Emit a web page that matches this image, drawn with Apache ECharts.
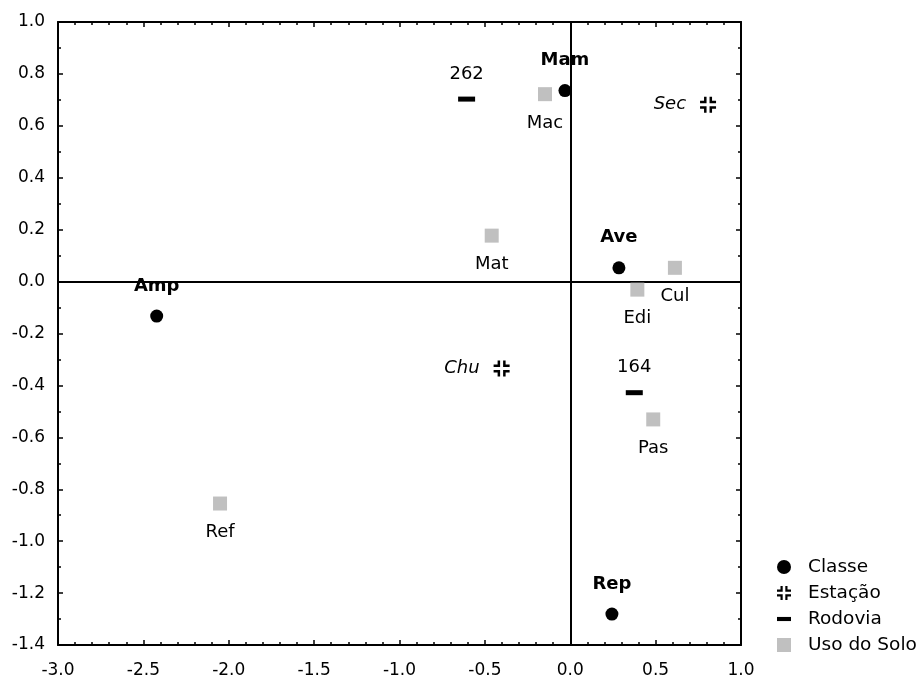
<!DOCTYPE html>
<html>
<head>
<meta charset="utf-8">
<script src="https://cdn.jsdelivr.net/npm/echarts@6/dist/echarts.min.js"></script>
<style>
  html, body { margin: 0; padding: 0; background: #fff; }
  #main { width: 924px; height: 679px; }
</style>
</head>
<body>
<div id="main"></div>
<script>
var chart;
var option;

// Classe
var classeNames = ['Mam', 'Ave', 'Amp', 'Rep'];
var classeX = [-0.031, 0.285, -2.422, 0.244];
var classeY = [0.736, 0.053, -0.133, -1.281];

// Estação
var estacaoNames = ['Sec', 'Chu'];
var estacaoX = [0.807, -0.402];
var estacaoY = [0.681, -0.335];

// Rodovia
var rodoviaNames = ['262', '164'];
var rodoviaX = [-0.607, 0.375];
var rodoviaY = [0.703, -0.428];

// Uso do Solo
var usoNames = ['Mac', 'Mat', 'Cul', 'Edi', 'Pas', 'Ref'];
var usoX = [-0.148, -0.460, 0.613, 0.393, 0.486, -2.051];
var usoY = [0.722, 0.177, 0.053, -0.031, -0.531, -0.855];

var legendNames = ['Classe', 'Estação', 'Rodovia', 'Uso do Solo'];

var FONT = 'DejaVu Sans';
var stationPath = 'path://M4 0H6.5V6.5H0V4H4Z M9.5 0H12V4H16V6.5H9.5Z M0 9.5H6.5V16H4V12H0Z M9.5 9.5H16V12H12V16H9.5Z';
// dash drawn inside a square box so the legend icon keeps its shape
var dashPath = 'path://M0 0M0 17M0 6H17V11H0Z';

function points(names, xs, ys) {
	var out = [];
	for (var i = 0; i < names.length; i++) {
		out.push({ name: names[i], value: [xs[i], ys[i]] });
	}
	return out;
}

function fmt(v) {
	return v.toFixed(1);
}

function box(pos, showLabel) {
	return {
		type: 'value', min: pos === 'x' ? -3 : -1.4, max: 1, interval: pos === 'x' ? 0.5 : 0.2,
		axisLine: { onZero: false, lineStyle: { color: '#000', width: 2 } },
		axisTick: { inside: true, length: 5, lineStyle: { color: '#000', width: 1.5 } },
		minorTick: { show: true, splitNumber: pos === 'x' ? 5 : 2, length: 3, lineStyle: { color: '#000', width: 1.5 } },
		splitLine: { show: false },
		axisLabel: showLabel
			? { fontFamily: FONT, fontSize: 17, color: '#000', margin: pos === 'x' ? 17 : 13, formatter: fmt }
			: { show: false }
	};
}

chart = echarts.init(document.getElementById('main'));

var xBottom = box('x', true);
var xTop = box('x', false); xTop.position = 'top';
var yLeft = box('y', true);
var yRight = box('y', false); yRight.position = 'right';

option = {
	backgroundColor: '#fff',
	animation: false,
	textStyle: { fontFamily: FONT },
	grid: { left: 58, right: 183, top: 22, bottom: 33 },
	legend: {
		orient: 'vertical',
		left: 772,
		top: 552,
		itemWidth: 14,
		itemHeight: 14,
		itemGap: 6,
		data: [
			{ name: legendNames[0], icon: 'circle' },
			{ name: legendNames[1], icon: stationPath },
			{ name: legendNames[2], icon: dashPath },
			{ name: legendNames[3], icon: 'rect' }
		],
		textStyle: { fontFamily: FONT, fontSize: 18.5, color: '#000', lineHeight: 20, padding: [0, 0, 0, 12] }
	},
	xAxis: [xBottom, xTop],
	yAxis: [yLeft, yRight],
	series: [{
		name: 'Classe',
		type: 'scatter',
		symbol: 'circle',
		symbolSize: 13,
		z: 4,
		itemStyle: { color: '#000', opacity: 1 },
		data: points(classeNames, classeX, classeY),
		label: {
			show: true, position: 'inside', offset: [0, -30],
			formatter: '{b}', fontFamily: FONT, fontSize: 18, fontWeight: 'bold', color: '#000'
		},
		markLine: {
			silent: true,
			symbol: 'none',
			z: 1,
			label: { show: false },
			lineStyle: { color: '#000', width: 2, type: 'solid', opacity: 1 },
			data: [{ xAxis: 0 }, { yAxis: 0 }]
		}
	}, {
		name: 'Estação',
		type: 'scatter',
		symbol: stationPath,
		symbolSize: 16,
		z: 3,
		itemStyle: { color: '#000', opacity: 1 },
		data: points(estacaoNames, estacaoX, estacaoY),
		label: {
			show: true, position: 'left', distance: 14,
			formatter: '{b}', fontFamily: FONT, fontSize: 18, fontStyle: 'italic', color: '#000'
		}
	}, {
		name: 'Rodovia',
		type: 'scatter',
		symbol: dashPath,
		symbolSize: 17,
		z: 3,
		itemStyle: { color: '#000', opacity: 1 },
		data: points(rodoviaNames, rodoviaX, rodoviaY),
		label: {
			show: true, position: 'inside', offset: [0, -25],
			formatter: '{b}', fontFamily: FONT, fontSize: 18, color: '#000'
		}
	}, {
		name: 'Uso do Solo',
		type: 'scatter',
		symbol: 'rect',
		symbolSize: 14,
		z: 2,
		itemStyle: { color: '#c0c0c0', opacity: 1 },
		data: points(usoNames, usoX, usoY),
		label: {
			show: true, position: 'inside', offset: [0, 29],
			formatter: '{b}', fontFamily: FONT, fontSize: 18, color: '#000'
		}
	}]
};

chart.setOption(option);
</script>
</body>
</html>
